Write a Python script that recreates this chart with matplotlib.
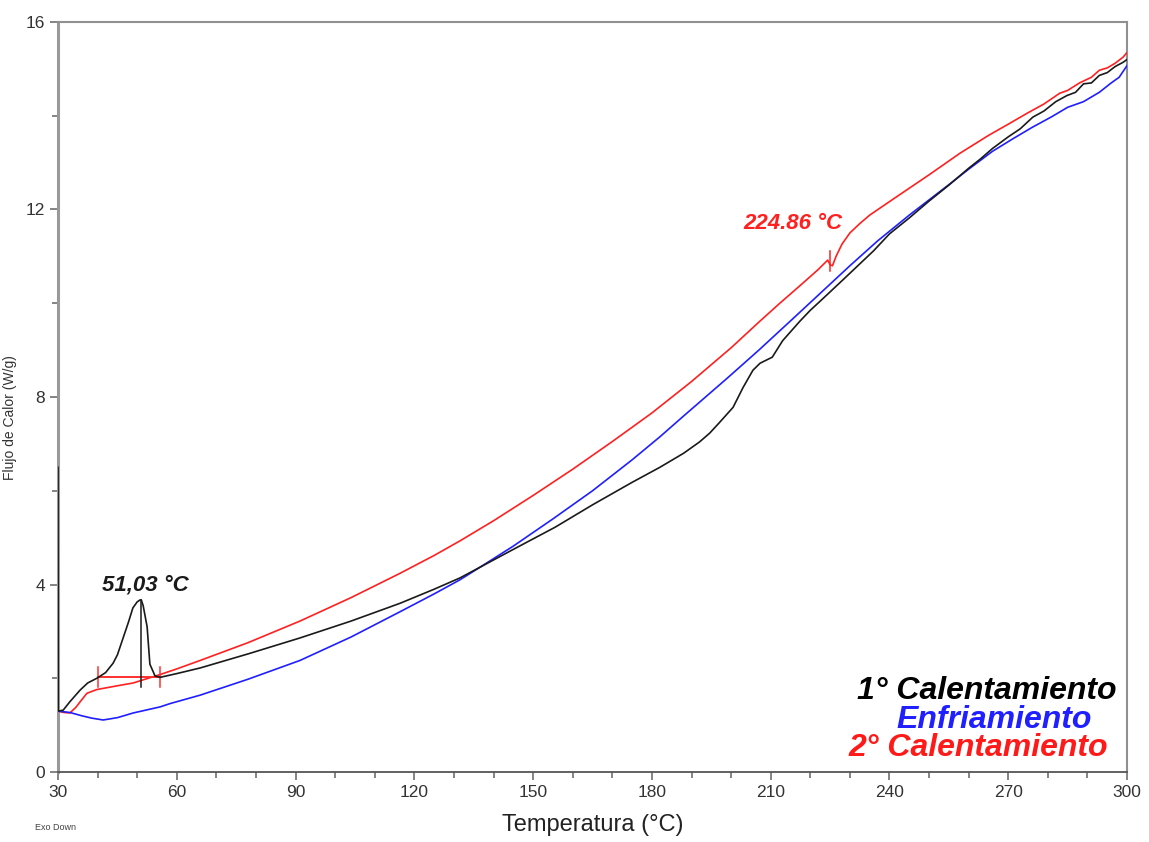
import numpy as np
import matplotlib
matplotlib.use("Agg")
import matplotlib.pyplot as plt
from matplotlib.ticker import MultipleLocator

plt.rcParams['font.family'] = ['Liberation Sans', 'DejaVu Sans']

# 1st heating (black)
t_cal1 = [30, 30.05, 31.3, 33, 35.6, 37.5, 39.8, 42, 43.9, 45, 46.4, 47.8, 48.9, 50, 50.7,
          51.03, 51.5, 52.5, 53.2, 54.5, 55.8, 60, 65.9, 78, 91.1, 104, 116.4, 125, 131.5,
          136.6, 145, 155.5, 165, 175, 182, 188, 192, 194.6, 197, 200.5, 203, 205.5, 207.3,
          210.4, 213, 217.4, 220, 223.2, 228, 232, 236, 240, 245, 250, 255, 260, 263, 266,
          270, 273, 276.2, 279, 282, 284.8, 287, 289, 291, 293, 295, 297, 299, 300]
q_cal1 = [6.5, 1.3, 1.32, 1.5, 1.75, 1.9, 2.0, 2.12, 2.32, 2.5, 2.85, 3.2, 3.5, 3.63, 3.67,
          3.67, 3.55, 3.1, 2.3, 2.05, 2.02, 2.1, 2.22, 2.52, 2.86, 3.22, 3.6, 3.9, 4.14,
          4.37, 4.75, 5.22, 5.7, 6.18, 6.5, 6.8, 7.04, 7.23, 7.45, 7.78, 8.2, 8.57, 8.72,
          8.85, 9.2, 9.62, 9.85, 10.1, 10.48, 10.8, 11.12, 11.48, 11.82, 12.18, 12.52, 12.88, 13.08, 13.3,
          13.55, 13.72, 13.97, 14.1, 14.3, 14.43, 14.5, 14.68, 14.7, 14.86, 14.92, 15.05, 15.14, 15.2]

# cooling (blue)
t_enf = [30, 33, 36, 38.5, 41.4, 45, 49, 55.8, 58.3, 65.9, 78, 91.1, 104, 116.4, 125, 131.5,
         136.6, 145, 155, 165, 175, 182, 187.8, 199, 207, 215.6, 220.7, 230, 237, 245, 255,
         260, 266, 271, 276, 281, 285, 289, 293, 296, 298, 300]
q_enf = [1.3, 1.27, 1.2, 1.15, 1.11, 1.16, 1.26, 1.39, 1.46, 1.64, 1.98, 2.38, 2.88, 3.42, 3.8, 4.1,
         4.37, 4.82, 5.4, 6.0, 6.66, 7.15, 7.58, 8.4, 9.0, 9.67, 10.07, 10.8, 11.33, 11.88, 12.53,
         12.86, 13.24, 13.5, 13.75, 13.98, 14.18, 14.3, 14.5, 14.7, 14.82, 15.07]

# 2nd heating (red)
t_cal2 = [30, 31.5, 33, 34.5, 35.6, 37.3, 39.8, 45, 49, 55.8, 60, 65.9, 78, 91.1, 104, 116.4,
          125, 131.5, 140, 150, 160, 170, 180, 190, 200, 207.3, 212.3, 218, 222, 224.4, 225,
          225.6, 226.5, 228, 230, 232.5, 235, 240.9, 250, 257.8, 265, 270, 274.7, 279, 283, 285,
          288, 291, 293, 295, 297, 299, 300]
q_cal2 = [1.3, 1.27, 1.26, 1.38, 1.5, 1.68, 1.76, 1.84, 1.9, 2.08, 2.2, 2.38, 2.76, 3.22, 3.72, 4.24,
          4.62, 4.93, 5.36, 5.9, 6.46, 7.05, 7.66, 8.33, 9.05, 9.62, 10.0, 10.42, 10.72, 10.92, 10.82,
          10.8, 11.0, 11.26, 11.5, 11.7, 11.88, 12.22, 12.74, 13.2, 13.58, 13.82, 14.05, 14.25, 14.48, 14.54,
          14.7, 14.82, 14.97, 15.02, 15.12, 15.25, 15.35]

peak_t, peak_q = 51.03, 3.67
tg_t, tg_q = 224.86, 10.9
base_t = [40, 55.7]
base_q = 2.03

fig = plt.figure(figsize=(11.49, 8.42), dpi=100)
ax = fig.add_axes([0.0505, 0.0831, 0.9304, 0.8908])

ax.plot(t_cal2, q_cal2, color='#ff2020', lw=1.2, zorder=3)
ax.plot(t_enf, q_enf, color='#1f1fff', lw=1.2, zorder=3)
ax.plot(t_cal1, q_cal1, color='#1a1a1a', lw=1.2, zorder=4)

# melting peak marker and baseline
ax.plot([peak_t, peak_t], [peak_q, 1.81], color='#1a1a1a', lw=1.1, zorder=4)
ax.plot(base_t, [base_q, base_q], color='#ff3030', lw=1.4, zorder=3)
for bt in base_t:
    ax.plot([bt, bt], [base_q - 0.22, base_q + 0.2], color='#ff3030', lw=1.1, zorder=3)
ax.text(52.0, 3.99, '51,03 °C', color='#1a1a1a', fontsize=16, fontweight='bold',
        fontstyle='italic', ha='center', va='center')

# glass transition marker
ax.plot([tg_t, tg_t], [tg_q + 0.22, tg_q - 0.22], color='#ff2020', lw=1.1, zorder=3)
ax.text(215.6, 11.71, '224.86 °C', color='#ff2020', fontsize=16, fontweight='bold',
        fontstyle='italic', ha='center', va='center')

# legend-like labels
leg_kw = dict(fontsize=23, fontweight='bold', fontstyle='italic', ha='right',
              va='center', transform=ax.transAxes)
ax.text((1116.7 - 58) / 1069, 1 - (690.7 - 22) / 750, '1° Calentamiento', color='black', **leg_kw)
ax.text((1091.7 - 58) / 1069, 1 - (720 - 22) / 750, 'Enfriamiento', color='#1f1fff', **leg_kw)
ax.text((1108 - 58) / 1069, 1 - (748 - 22) / 750, '2° Calentamiento', color='#ff1a1a', **leg_kw)

ax.set_xlim(30, 300)
ax.set_ylim(0, 16)
ax.xaxis.set_major_locator(MultipleLocator(30))
ax.xaxis.set_minor_locator(MultipleLocator(10))
ax.yaxis.set_major_locator(MultipleLocator(4))
ax.yaxis.set_minor_locator(MultipleLocator(2))
ax.tick_params(which='both', direction='out', color='#707070', labelcolor='#333333',
               labelsize=12.5, width=1.2)
ax.tick_params(which='major', length=6)
ax.tick_params(which='minor', length=4)

for side in ['top', 'right']:
    ax.spines[side].set_color('#909090')
    ax.spines[side].set_linewidth(1.5)
ax.spines['left'].set_color('#999999')
ax.spines['left'].set_linewidth(2.2)
ax.spines['bottom'].set_color('#555555')
ax.spines['bottom'].set_linewidth(1.3)

ax.set_xlabel('Temperatura (°C)', fontsize=17, color='#222222', labelpad=10)
ax.set_ylabel('Flujo de Calor (W/g)', fontsize=10, color='#333333')
ax.yaxis.set_label_coords((17 - 58) / 1069, 1 - (418 - 22) / 750)
fig.text(35 / 1149, 1 - 828 / 842, 'Exo Down', fontsize=6.5, color='#444444', va='center')

fig.savefig('out.png', dpi=100)
